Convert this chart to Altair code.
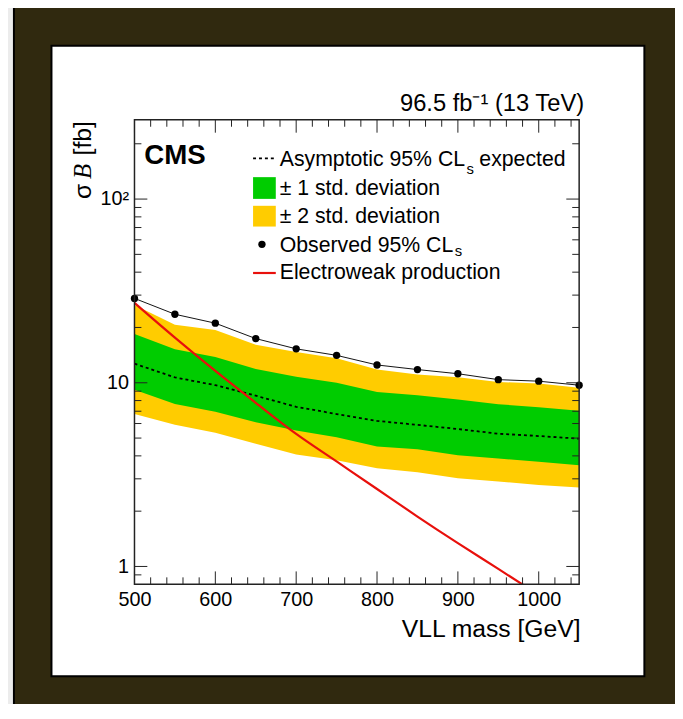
import altair as alt
import pandas as pd

# ---------------- data ----------------
mass = [500, 550, 600, 650, 700, 750, 800, 850, 900, 950, 1000, 1050]
observed = [28.8, 23.6, 21.1, 17.4, 15.3, 14.1, 12.5, 11.8, 11.2, 10.4, 10.2, 9.7]
expected = [12.7, 10.7, 9.7, 8.5, 7.4, 6.76, 6.2, 5.9, 5.6, 5.28, 5.13, 4.96]
plus2 = [26.5, 20.7, 19.4, 16.1, 14.7, 13.6, 11.8, 11.1, 10.7, 10.1, 9.9, 9.4]
plus1 = [18.4, 15.2, 13.8, 11.9, 10.8, 10.0, 8.9, 8.55, 8.1, 7.65, 7.35, 7.05]
minus1 = [9.15, 7.66, 6.96, 6.1, 5.5, 5.05, 4.5, 4.35, 4.03, 3.87, 3.72, 3.56]
minus2 = [6.76, 5.9, 5.34, 4.66, 4.07, 3.79, 3.42, 3.26, 3.02, 2.90, 2.78, 2.69]

ew_mass = [500, 550, 600, 650, 700, 750, 800, 850, 900, 950, 1000]
ew_xsec = [27.2, 17.6, 11.6, 7.78, 5.27, 3.73, 2.64, 1.87, 1.34, 0.97, 0.70]

x_major = [500, 600, 700, 800, 900, 1000]
x_minor = [v for v in range(520, 1050, 20) if v % 100 != 0]
y_major = [1, 10, 100]
y_minor = [0.9, 2, 3, 4, 5, 6, 7, 8, 9, 20, 30, 40, 50, 60, 70, 80, 90, 200]

lumi_text = "96.5 fb\u207b\u00b9 (13 TeV)"
x_title = "VLL mass [GeV]"
legend_labels = [
    "Asymptotic 95% CL", "s", "expected",
    "\u00b1 1 std. deviation",
    "\u00b1 2 std. deviation",
    "Observed 95% CL", "s",
    "Electroweak production",
]

# ---------------- styling ----------------
FONT = "Liberation Sans"
W, H = 450, 470
YELLOW = "#ffcc00"
GREEN = "#00cc00"
RED = "#e8100c"

df = pd.DataFrame({"m": mass, "obs": observed, "exp": expected,
                   "p2": plus2, "p1": plus1, "m1": minus1, "m2": minus2})
ewdf = pd.DataFrame({"m": ew_mass, "v": ew_xsec})
one = pd.DataFrame({"k": [0]})

xs = alt.Scale(domain=[500, 1050], nice=False, zero=False)
ys = alt.Scale(type="log", domain=[0.8, 270], nice=False)

xaxis = alt.Axis(values=x_major, format="d", labelFont=FONT, labelFontSize=20,
                 labelColor="black", labelPadding=5, labelFlush=False,
                 labelOverlap=False, ticks=False, tickSize=0, domain=False,
                 grid=False, title=x_title, titleFont=FONT, titleFontSize=25,
                 titleFontWeight="normal", titleColor="black", titleX=W + 1,
                 titleY=53, titleAlign="right", titleBaseline="alphabetic",
                 zindex=1)
yaxis = alt.Axis(values=y_major,
                 labelExpr="datum.value >= 100 ? '10\u00b2' : (datum.value >= 10 ? '10' : '1')",
                 labelFont=FONT, labelFontSize=20, labelColor="black",
                 labelPadding=6, labelFlush=False, labelOverlap=False,
                 ticks=False, tickSize=0, domain=False, grid=False, title="",
                 zindex=1)


def X(f="m"):
    return alt.X(f"{f}:Q", scale=xs, axis=xaxis)


def Y(f):
    return alt.Y(f"{f}:Q", scale=ys, axis=yaxis)


def txt(label, x, y, size, align="left", angle=0, font=FONT,
        weight="normal", style="normal", baseline="alphabetic"):
    return alt.Chart(pd.DataFrame({"t": [label]})).mark_text(
        align=align, baseline=baseline, fontSize=size, font=font,
        fontWeight=weight, fontStyle=style, angle=angle, color="black"
    ).encode(x=alt.value(x), y=alt.value(y), text="t:N")


def box(x1, x2, y1, y2, **kw):
    return alt.Chart(one).mark_rect(**kw).encode(
        x=alt.value(x1), x2=alt.value(x2), y=alt.value(y1), y2=alt.value(y2))


layers = []
# outer dark frame and white panel
layers.append(box(-122, 580, -118, 620, fill="#30290f", stroke="black", strokeWidth=2))
layers.append(box(-84, 516, -75, 563, fill="white", stroke="black", strokeWidth=2))

# bands
layers.append(alt.Chart(df).mark_area(color=YELLOW, opacity=1).encode(
    x=X(), y=Y("m2"), y2="p2"))
layers.append(alt.Chart(df).mark_area(color=GREEN, opacity=1).encode(
    x=X(), y=Y("m1"), y2="p1"))
# expected
layers.append(alt.Chart(df).mark_line(color="black", strokeDash=[3, 3], strokeWidth=1.8).encode(
    x=X(), y=Y("exp")))
# electroweak
layers.append(alt.Chart(ewdf).mark_line(color=RED, strokeWidth=2.2, clip=True,
                                        interpolate="monotone").encode(x=X(), y=Y("v")))
# observed
layers.append(alt.Chart(df).mark_line(color="#111111", strokeWidth=1).encode(
    x=X(), y=Y("obs")))
layers.append(alt.Chart(df).mark_circle(color="black", size=55, opacity=1).encode(
    x=X(), y=Y("obs")))

# inward ticks on all four sides
xmaj = pd.DataFrame({"m": x_major})
xmin = pd.DataFrame({"m": x_minor})
ymaj = pd.DataFrame({"v": y_major})
ymin = pd.DataFrame({"v": y_minor})
TC = "#222222"
for d, L in ((xmaj, 13), (xmin, 7)):
    layers.append(alt.Chart(d).mark_rule(color=TC, strokeWidth=1).encode(
        x=X(), y=alt.value(H), y2=alt.value(H - L)))
    layers.append(alt.Chart(d).mark_rule(color=TC, strokeWidth=1).encode(
        x=X(), y=alt.value(0), y2=alt.value(L)))
for d, L in ((ymaj, 13), (ymin, 7)):
    layers.append(alt.Chart(d).mark_rule(color=TC, strokeWidth=1).encode(
        y=Y("v"), x=alt.value(0), x2=alt.value(L)))
    layers.append(alt.Chart(d).mark_rule(color=TC, strokeWidth=1).encode(
        y=Y("v"), x=alt.value(W), x2=alt.value(W - L)))

# plot frame
layers.append(box(0, W, 0, H, fillOpacity=0, stroke="#222222", strokeWidth=1.5))

# texts
layers.append(txt(lumi_text, 455, -9, 24, align="right"))
layers.append(txt("CMS", 10, 45, 28, weight="bold"))
# y title pieces (rotated)
layers.append(txt("\u03c3", -44, 80, 25, angle=270))
layers.append(txt("B", -44, 60, 25, angle=270, font="Liberation Serif", style="italic"))
layers.append(txt("[fb]", -44, 36, 25, angle=270))

# legend
LX = 147
FS = 21.5
layers.append(txt(legend_labels[0], LX, 46.3, FS))
layers.append(txt(legend_labels[1], 336, 54.5, 15))
layers.append(txt(legend_labels[2], 349, 46.3, FS))
layers.append(txt(legend_labels[3], LX, 76.3, FS))
layers.append(txt(legend_labels[4], LX, 104.7, FS))
layers.append(txt(legend_labels[5], LX, 133.7, FS))
layers.append(txt(legend_labels[6], 324, 137.5, 15))
layers.append(txt(legend_labels[7], LX, 161.3, FS))

layers.append(alt.Chart(one).mark_rule(color="black", strokeDash=[3, 3], strokeWidth=1.8).encode(
    x=alt.value(120), x2=alt.value(143), y=alt.value(39)))
layers.append(box(120, 143, 58, 80, fill=GREEN))
layers.append(box(120, 143, 87, 108, fill=YELLOW))
layers.append(alt.Chart(one).mark_circle(color="black", size=55, opacity=1).encode(
    x=alt.value(129), y=alt.value(126)))
layers.append(alt.Chart(one).mark_rule(color=RED, strokeWidth=2.2).encode(
    x=alt.value(120), x2=alt.value(143), y=alt.value(155)))

chart = alt.layer(*layers).properties(
    width=W, height=H,
    autosize=alt.AutoSizeParams(type="none"),
    padding={"left": 128, "top": 109, "right": 97, "bottom": 117},
    background="#ececec",
).configure_view(strokeWidth=0)

chart.save("out.html", embed_options={"renderer": "svg", "actions": False})
